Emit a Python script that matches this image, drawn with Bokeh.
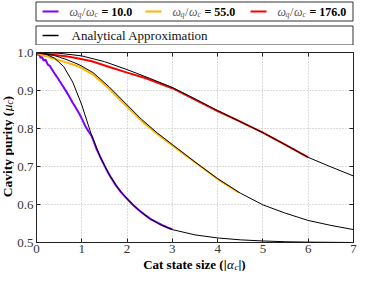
import math
from bokeh.plotting import figure
from bokeh.models import LinearAxis, Range1d, FixedTicker
from bokeh.layouts import column, row
from bokeh.core.properties import value
from bokeh.embed import file_html
from bokeh.resources import INLINE

# ---------------- data ----------------
x_ticks = [0, 1, 2, 3, 4, 5, 6, 7]
x_tick_labels = ["0", "1", "2", "3", "4", "5", "6", "7"]
y_ticks = [0.5, 0.6, 0.7, 0.8, 0.9, 1.0]
y_tick_labels = ["0.5", "0.6", "0.7", "0.8", "0.9", "1.0"]

ratios = ["10.0", "55.0", "176.0"]
colors = ["#8000ff", "#ffb400", "#ff0000"]

# simulated purity, omega_q/omega_c = 10
sim10_a = [0, 0.03, 0.06, 0.09, 0.12, 0.16, 0.2, 0.25, 0.3, 0.37, 0.45, 0.51, 0.58,
           0.65, 0.72, 0.79, 0.86, 0.94, 1.0, 1.08, 1.15, 1.22, 1.33, 1.44, 1.54,
           1.65, 1.75, 1.87, 2.0, 2.12, 2.25, 2.4, 2.53, 2.67, 2.81, 2.9, 3.0]
sim10_p = [1.0, 0.994, 0.996, 0.986, 0.988, 0.979, 0.981, 0.968, 0.964, 0.95, 0.936,
           0.925, 0.912, 0.899, 0.885, 0.87, 0.856, 0.84, 0.826, 0.806, 0.792, 0.78,
           0.745, 0.717, 0.693, 0.67, 0.651, 0.632, 0.615, 0.6, 0.586, 0.572, 0.561,
           0.552, 0.544, 0.539, 0.535]
# simulated purity, omega_q/omega_c = 55
sim55_a = [0, 0.1, 0.2, 0.37, 0.65, 0.94, 1.25, 1.61, 1.96, 2.32, 2.67, 3.03, 3.31,
           3.5, 4.0, 4.47]
sim55_p = [1.0, 0.994, 0.991, 0.984, 0.974, 0.963, 0.942, 0.904, 0.862, 0.82, 0.785,
           0.753, 0.728, 0.711, 0.667, 0.631]
# simulated purity, omega_q/omega_c = 176
sim176_a = [0, 0.3, 0.65, 0.9, 1.22, 1.61, 2.0, 2.4, 3.0, 3.5, 4.0, 4.5, 5.0, 5.5, 6.0]
sim176_p = [1.0, 0.995, 0.99, 0.985, 0.977, 0.962, 0.947, 0.933, 0.906, 0.876, 0.846,
            0.818, 0.789, 0.757, 0.724]

# analytical approximations
ana10_a = [0, 0.2, 0.4, 0.6, 0.8, 1.0, 1.2, 1.4, 1.6, 1.8, 2.0, 2.25, 2.5, 2.75, 3.0,
           3.5, 4.0, 4.5, 5.0, 5.5, 6.0, 7.0]
ana10_p = [1.0, 0.996, 0.985, 0.963, 0.922, 0.862, 0.788, 0.727, 0.68, 0.643, 0.615,
           0.586, 0.563, 0.546, 0.534, 0.52, 0.512, 0.507, 0.504, 0.502, 0.501, 0.5]
ana55_a = [0, 0.37, 0.65, 0.94, 1.25, 1.61, 1.96, 2.32, 2.67, 3.03, 3.5, 4.0, 4.5, 5.0,
           5.5, 6.0, 6.5, 7.0]
ana55_p = [1.0, 0.993, 0.982, 0.968, 0.947, 0.909, 0.867, 0.824, 0.788, 0.755, 0.712,
           0.668, 0.630, 0.599, 0.577, 0.558, 0.545, 0.534]
ana176_a = [0, 0.5, 1.0, 1.5, 2.0, 2.5, 3.0, 3.5, 4.0, 4.5, 5.0, 5.5, 6.0, 6.5, 7.0]
ana176_p = [1.0, 0.998, 0.991, 0.976, 0.955, 0.932, 0.908, 0.878, 0.847, 0.818, 0.789,
            0.757, 0.724, 0.699, 0.675]

sims = [(sim10_a, sim10_p), (sim55_a, sim55_p), (sim176_a, sim176_p)]
anas = [(ana10_a, ana10_p), (ana55_a, ana55_p), (ana176_a, ana176_p)]

SERIF = "Liberation Serif"
TOTAL_W = 358
LEG_H = 45
MAIN_H = 212
XLAB_H = 14
YLAB_W = 14
MAIN_W = TOTAL_W - YLAB_W
BL, BR, BT, BB = 21, 5, 7, 15   # main figure borders


def blank(w, h):
    f = figure(width=w, height=h, x_range=Range1d(0, w), y_range=Range1d(0, h),
               x_axis_type=None, y_axis_type=None, min_border=0,
               toolbar_location=None, output_backend="svg")
    f.outline_line_color = None
    f.background_fill_color = "white"
    f.border_fill_color = "white"
    f.xgrid.visible = False
    f.ygrid.visible = False
    return f


def T(f, x, y, s, size, style="normal", color="#000000", align="left", angle=0.0):
    f.text(x=[x], y=[y], text=[s], text_font=value(SERIF), text_font_size=f"{size}px",
           text_font_style=style, text_color=color, text_align=align,
           text_baseline="middle", text_line_height=1.0, angle=angle)


# ---------------- main plot ----------------
p = figure(width=MAIN_W, height=MAIN_H, output_backend="svg", toolbar_location=None,
           x_range=Range1d(0, 7), y_range=Range1d(0.5, 1.0),
           min_border_left=BL, min_border_right=BR, min_border_top=BT,
           min_border_bottom=BB)
p.background_fill_color = "white"
p.border_fill_color = "white"
p.outline_line_color = "#222222"
p.outline_line_width = 1

for ax in (p.xaxis[0], p.yaxis[0]):
    ax.axis_line_color = None
    ax.major_tick_in = 4
    ax.major_tick_out = 0
    ax.minor_tick_line_color = None
    ax.major_tick_line_color = "#222222"
    ax.major_label_text_font = SERIF
    ax.major_label_text_font_size = "13px"
    ax.major_label_text_color = "#333333"
p.xaxis.major_label_standoff = 2
p.yaxis.major_label_standoff = 3
p.xaxis.ticker = FixedTicker(ticks=x_ticks)
p.xaxis.major_label_overrides = dict(zip(x_ticks, x_tick_labels))
p.yaxis.ticker = FixedTicker(ticks=y_ticks)
p.yaxis.major_label_overrides = dict(zip(y_ticks, y_tick_labels))

for loc, tk in (("above", x_ticks), ("right", y_ticks)):
    ax = LinearAxis(ticker=FixedTicker(ticks=tk), major_tick_in=4, major_tick_out=0,
                    axis_line_color=None, minor_tick_line_color=None,
                    major_tick_line_color="#222222", major_label_text_font_size="1px",
                    major_label_standoff=0,
                    major_label_overrides={t: "" for t in tk})
    p.add_layout(ax, loc)

p.xgrid.ticker = FixedTicker(ticks=x_ticks)
p.ygrid.ticker = FixedTicker(ticks=y_ticks)
for g in (p.xgrid[0], p.ygrid[0]):
    g.grid_line_color = "#bbbbbb"
    g.grid_line_dash = "1 2"
    g.grid_line_width = 1

for (a, v), c in zip(sims, colors):
    p.line(a, v, line_color=c, line_width=2)
for (a, v) in anas:
    p.line(a, v, line_color="black", line_width=1)

# ---------------- legend strip ----------------
leg = blank(TOTAL_W, LEG_H)
FL = YLAB_W + BL                 # frame left in page px
FR = TOTAL_W - BR                # frame right in page px
leg.quad(left=[FL + 0.5], right=[FR - 0.5], bottom=[24.5], top=[43.5],
         fill_color="white", line_color="#333333", line_width=1)
leg.quad(left=[FL + 0.5], right=[FR - 0.5], bottom=[0.5], top=[19.5],
         fill_color="white", line_color="#333333", line_width=1)
item_x = [FL + 7, FL + 110, FL + 215]
g = "#555555"
LY = 34
for ix, c, ratio in zip(item_x, colors, ratios):
    leg.line(x=[ix, ix + 16], y=[LY, LY], line_color=c, line_width=2)
    tx = ix + 27
    T(leg, tx, LY, "ω", 12, "italic", g)
    T(leg, tx + 8, LY - 3, "q", 8, "italic", g)
    T(leg, tx + 12.5, LY, "/", 12, "normal", g)
    T(leg, tx + 16.5, LY, "ω", 12, "italic", g)
    T(leg, tx + 25, LY - 3, "c", 8, "italic", g)
    T(leg, tx + 32, LY, "= " + ratio, 12, "bold", "#000000")
leg.line(x=[FL + 7, FL + 23], y=[10, 10], line_color="black", line_width=1.5)
T(leg, FL + 36, 10, "Analytical Approximation", 13, "normal", "#111111")

# ---------------- y label strip ----------------
ylab = blank(YLAB_W, MAIN_H)
ang = math.pi / 2
Y = 146
BX = 7
T(ylab, BX, Y, "Cavity purity (", 13.5, "bold", align="right", angle=ang)
T(ylab, BX, Y + 0.5, "μ", 13.5, "italic", angle=ang)
T(ylab, BX + 2.5, Y + 8, "c", 9.5, "italic", angle=ang)
T(ylab, BX, Y + 12.5, ")", 13.5, "bold", angle=ang)

# ---------------- x label strip ----------------
xlab = blank(TOTAL_W, XLAB_H)
X = 226
XB = 7.5
T(xlab, X, XB, "Cat state size (|", 13, "bold", align="right")
T(xlab, X + 0.5, XB, "α", 13, "italic")
T(xlab, X + 8, XB - 2.5, "c", 9, "italic")
T(xlab, X + 12, XB, "|)", 13, "bold")

layout = column(leg, row(ylab, p, spacing=0), xlab, spacing=0)
open("out.html", "w").write(file_html(layout, INLINE))
